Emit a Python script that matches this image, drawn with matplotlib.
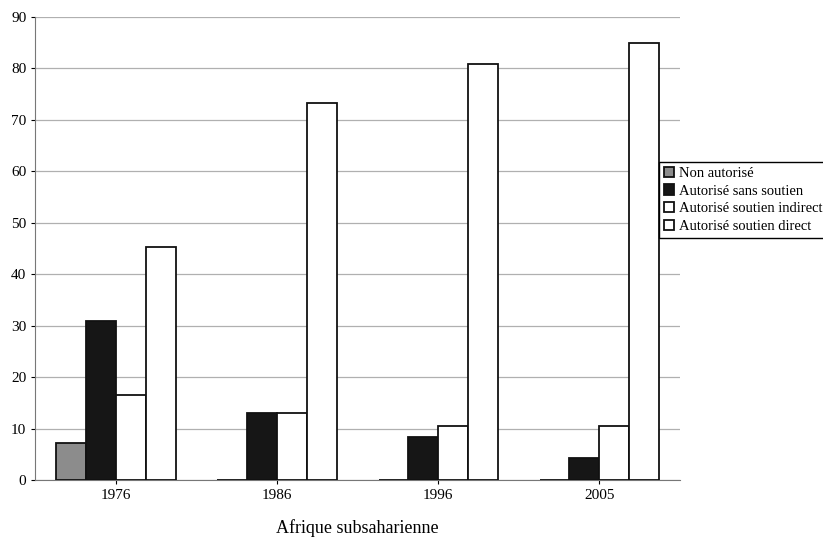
import numpy as np
import matplotlib.pyplot as plt

plt.rcParams['font.family'] = ['Liberation Serif', 'DejaVu Serif']

years = ['1976', '1986', '1996', '2005']
non_autorise = [7.3, 0, 0, 0]
sans_soutien = [31, 13, 8.4, 4.3]
soutien_indirect = [16.6, 13, 10.6, 10.6]
soutien_direct = [45.2, 73.3, 80.8, 85]

series = [
    ('Non autorisé', non_autorise, '#8c8c8c'),
    ('Autorisé sans soutien', sans_soutien, '#161616'),
    ('Autorisé soutien indirect', soutien_indirect, 'white'),
    ('Autorisé soutien direct', soutien_direct, 'white'),
]

fig = plt.figure(figsize=(8.23, 5.42), dpi=100)
ax = fig.add_axes([0.043, 0.114, 0.783, 0.855])

x = np.arange(len(years))
w = 0.185
for i, (name, vals, col) in enumerate(series):
    ax.bar(x + (i - 1.5) * w, vals, w, color=col, edgecolor='#111111',
           linewidth=1.3, label=name, zorder=3)

ax.set_xlim(-0.5, 3.5)
ax.set_ylim(0, 90)
ax.set_yticks(range(0, 91, 10))
ax.set_xticks(x)
ax.set_xticklabels(years)
ax.tick_params(axis='both', labelsize=11, length=3)
ax.yaxis.grid(True, color='#b0b0b0', linewidth=0.9, zorder=0)
ax.spines['top'].set_visible(False)
ax.spines['right'].set_visible(False)
ax.spines['left'].set_color('#777777')
ax.spines['bottom'].set_color('#777777')
ax.set_xlabel('Afrique subsaharienne', fontsize=13, labelpad=12)

# legend sits over the right edge of the plot, like the original
fig.legend(loc='upper left', bbox_to_anchor=(0.792, 0.715), fontsize=10.5,
           frameon=True, fancybox=False, edgecolor='black', handlelength=0.7,
           handleheight=0.7, handletextpad=0.3, borderpad=0.35,
           labelspacing=0.3, framealpha=1)

fig.savefig('out.png', dpi=100)
